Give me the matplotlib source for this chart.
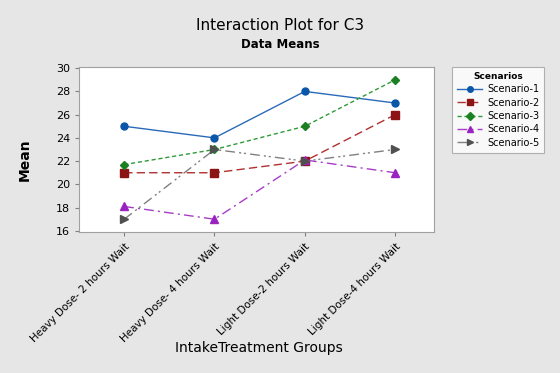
import matplotlib.pyplot as plt
import numpy as np

groups = ["Heavy Dose- 2 hours Wait", "Heavy Dose- 4 hours Wait",
          "Light Dose-2 hours Wait", "Light Dose-4 hours Wait"]
scenarios = ["Scenario-1", "Scenario-2", "Scenario-3", "Scenario-4", "Scenario-5"]
s1 = [25, 24, 28, 27]
s2 = [21, 21, 22, 26]
s3 = [21.7, 23, 25, 29]
s4 = [18.1, 17, 22.1, 21]
s5 = [17, 23, 22, 23]
yticks = [16, 18, 20, 22, 24, 26, 28, 30]

styles = [
    dict(color="#2a6ab8", mfc="#0a56a8", ls="-", marker="o", ms=5),
    dict(color="#b03030", mfc="#8c1414", ls=(0, (6, 3)), marker="s", ms=5.5),
    dict(color="#2e9a3a", mfc="#1a8022", ls=(0, (3, 2)), marker="D", ms=4.5),
    dict(color="#a83cc8", mfc="#9a22c0", ls=(0, (7, 3, 1.5, 3)), marker="^", ms=6),
    dict(color="#808080", mfc="#505050", ls=(0, (7, 3, 1.5, 2, 1.5, 3)), marker=">", ms=6),
]

fig = plt.figure(figsize=(5.6, 3.73), dpi=100, facecolor="#e6e6e6")
ax = fig.add_axes([79 / 560, 1 - 232 / 373, (434 - 79) / 560, (232 - 67) / 373])
ax.set_facecolor("white")

x = np.arange(len(groups))
for name, vals, st in zip(scenarios, [s1, s2, s3, s4, s5], styles):
    ax.plot(x, vals, color=st["color"], ls=st["ls"], lw=1,
            marker=st["marker"], ms=st["ms"], mfc=st["mfc"], mec=st["mfc"],
            label=name)

ax.set_xlim(-0.5, 3.43)
ax.set_ylim(15.9, 30.1)
ax.set_yticks(yticks)
ax.set_xticks(x)
ax.set_xticklabels(groups, rotation=45, ha="right", rotation_mode="anchor", fontsize=7.5)
ax.tick_params(axis="y", labelsize=8, length=3, color="#808080")
ax.tick_params(axis="x", length=3, color="#808080")
for sp in ax.spines.values():
    sp.set_color("#a0a0a0")

fig.text(25 / 560, 1 - 160 / 373, "Mean", fontsize=10, fontweight="bold",
         rotation=90, ha="center", va="center")
fig.text(259 / 560, 1 - 348 / 373, "IntakeTreatment Groups", fontsize=10,
         ha="center", va="center")
fig.text(280 / 560, 1 - 25 / 373, "Interaction Plot for C3", fontsize=11,
         ha="center", va="center")
fig.text(280 / 560, 1 - 44 / 373, "Data Means", fontsize=8.5, fontweight="semibold",
         ha="center", va="center")

leg = ax.legend(loc="upper left", bbox_to_anchor=(452 / 560, 1 - 67 / 373),
                bbox_transform=fig.transFigure, title="Scenarios",
                fontsize=7, title_fontsize=6.5, frameon=True, fancybox=False,
                edgecolor="#a0a0a0", handlelength=2.6, handletextpad=0.5,
                borderaxespad=0, labelspacing=0.35, markerscale=0.8,
                borderpad=0.5)
leg.get_title().set_fontweight("bold")
leg.get_frame().set_linewidth(0.8)

fig.savefig("out.png", dpi=100, facecolor=fig.get_facecolor())
